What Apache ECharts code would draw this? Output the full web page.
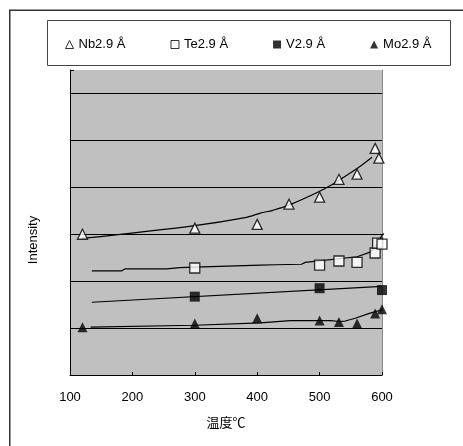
<!DOCTYPE html>
<html>
<head>
<meta charset="utf-8">
<script src="https://cdn.jsdelivr.net/npm/echarts@6/dist/echarts.min.js"></script>
<style>
  html, body { margin: 0; padding: 0; background: #fff; }
  #chart { width: 463px; height: 446px; }
</style>
</head>
<body>
<div id="chart"></div>
<script>
// Temperature axis ticks (°C)
const xTicks = [100, 200, 300, 400, 500, 600];

// Measured intensities (arbitrary units) at each temperature
const nbTemp = [120, 300, 400, 451, 500, 531, 560, 589, 595];
const nbVal  = [3.00, 3.13, 3.21, 3.64, 3.79, 4.17, 4.28, 4.83, 4.62];

const teTemp = [300, 500, 531, 560, 589, 593, 600];
const teVal  = [2.28, 2.34, 2.43, 2.40, 2.60, 2.81, 2.79];

const vTemp = [300, 500, 600];
const vVal  = [1.67, 1.85, 1.81];

const moTemp = [120, 300, 400, 500, 531, 560, 589, 600];
const moVal  = [1.02, 1.10, 1.21, 1.16, 1.13, 1.10, 1.31, 1.40];

// Trend curves drawn through each series
const nbFitTemp = [119, 297, 383, 405, 425, 451, 511, 560, 584];
const nbFitVal  = [2.91, 3.18, 3.36, 3.45, 3.51, 3.62, 3.99, 4.40, 4.64];

const teFitTemp = [135, 183, 188, 255, 276, 300, 405, 429, 471, 477, 560, 581, 589, 600, 605];
const teFitVal  = [2.22, 2.22, 2.26, 2.26, 2.29, 2.30, 2.34, 2.35, 2.36, 2.40, 2.52, 2.62, 2.72, 2.98, 3.03];

const vFitTemp = [135, 600];
const vFitVal  = [1.55, 1.89];

const moFitTemp = [133, 300, 405, 453, 517, 533, 541, 557, 581, 600];
const moFitVal  = [1.02, 1.06, 1.11, 1.16, 1.16, 1.14, 1.15, 1.21, 1.32, 1.39];

const legendNames = ['Nb2.9 Å', 'Te2.9 Å', 'V2.9 Å', 'Mo2.9 Å'];

const zip = (xs, ys) => xs.map((x, i) => [x, ys[i]]);

const hollow = { color: '#fff', borderColor: '#000', borderWidth: 1.3 };
const solid  = { color: '#000', borderColor: '#000', borderWidth: 0 };

const fitLine = (name, xs, ys, smooth, clip) => ({
  name: name,
  type: 'line',
  data: zip(xs, ys),
  showSymbol: false,
  smooth: smooth,
  clip: clip,
  silent: true,
  lineStyle: { color: '#000', width: 1.2 },
  z: 2
});

const points = (name, xs, ys, symbol, style) => ({
  name: name,
  type: 'scatter',
  data: zip(xs, ys),
  symbol: symbol,
  symbolSize: 10,
  itemStyle: style,
  z: 5
});

const chart = echarts.init(document.getElementById('chart'), null, { renderer: 'canvas' });

chart.setOption({
  animation: false,
  backgroundColor: '#fff',
  textStyle: { fontFamily: 'Liberation Sans, Arial, sans-serif' },
  graphic: [
    { type: 'rect', shape: { x: 9.75, y: 10.25, width: 480, height: 460 },
      style: { fill: 'none', stroke: '#333', lineWidth: 1.5 }, z: 0 },
    { type: 'rect', shape: { x: 47.5, y: 20.5, width: 403, height: 45 },
      style: { fill: '#fff', stroke: '#444', lineWidth: 1 }, z: 0 },
    { type: 'text', x: 33, y: 240, rotation: Math.PI / 2,
      style: { text: 'Intensity', fill: '#000', font: '13px "Liberation Sans", Arial, sans-serif',
               align: 'center', verticalAlign: 'middle' } }
  ],
  legend: {
    left: 60,
    top: 33,
    itemGap: 45,
    itemWidth: 8,
    itemHeight: 8,
    selectedMode: false,
    textStyle: { fontSize: 13, color: '#000', fontFamily: 'Liberation Sans, Arial, sans-serif' },
    data: [
      { name: legendNames[0], icon: 'triangle', itemStyle: { color: '#fff', borderColor: '#000', borderWidth: 1 } },
      { name: legendNames[1], icon: 'rect', itemStyle: { color: '#fff', borderColor: '#000', borderWidth: 1 } },
      { name: legendNames[2], icon: 'rect', itemStyle: solid },
      { name: legendNames[3], icon: 'triangle', itemStyle: solid }
    ]
  },
  grid: {
    left: 70, right: 81, top: 70, bottom: 71,
    show: true, backgroundColor: '#c0c0c0', borderWidth: 0
  },
  xAxis: {
    type: 'value',
    min: xTicks[0],
    max: xTicks[xTicks.length - 1],
    interval: 100,
    name: '温度℃',
    nameLocation: 'middle',
    nameGap: 41,
    nameTextStyle: { fontSize: 13, color: '#000', fontFamily: 'Noto Sans CJK JP, sans-serif' },
    axisLine: { show: true, lineStyle: { color: '#000', width: 1 } },
    axisTick: { show: true, inside: true, length: 3, lineStyle: { color: '#000' } },
    axisLabel: { fontSize: 13, color: '#000', margin: 16 },
    splitLine: { show: false }
  },
  yAxis: [
    {
      type: 'value',
      min: 0,
      max: 6.5,
      interval: 1,
      axisLine: { show: true, lineStyle: { color: '#000', width: 1 } },
      axisTick: { show: true, inside: true, length: 4, lineStyle: { color: '#000' } },
      axisLabel: { show: false },
      splitLine: {
        show: true,
        lineStyle: {
          color: ['#000', '#000', '#000', '#000', '#000', '#000', '#000', '#c0c0c0'],
          width: 1
        }
      }
    },
    {
      type: 'value',
      position: 'right',
      min: 0,
      max: 6.5,
      interval: 1,
      axisLine: { show: true, lineStyle: { color: '#8a8a8a', width: 1 } },
      axisTick: { show: false },
      axisLabel: { show: false },
      splitLine: { show: false }
    }
  ],
  series: [
    fitLine('Nb fit', nbFitTemp, nbFitVal, 0.3, true),
    fitLine('Te fit', teFitTemp, teFitVal, false, false),
    fitLine('V fit', vFitTemp, vFitVal, false, true),
    fitLine('Mo fit', moFitTemp, moFitVal, false, true),
    points(legendNames[0], nbTemp, nbVal, 'triangle', hollow),
    points(legendNames[1], teTemp, teVal, 'rect', hollow),
    points(legendNames[2], vTemp, vVal, 'rect', solid),
    points(legendNames[3], moTemp, moVal, 'triangle', solid)
  ]
});
</script>
</body>
</html>
